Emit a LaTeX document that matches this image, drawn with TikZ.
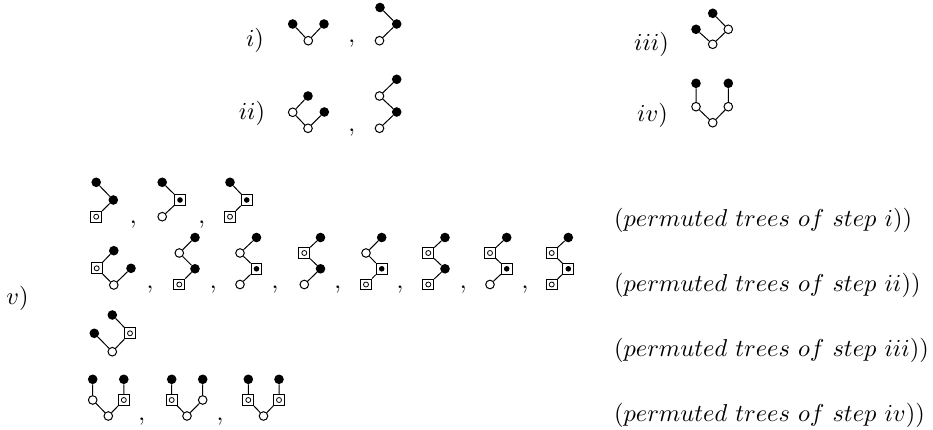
\documentclass[tikz,border=0pt]{standalone}
\usepackage{graphicx}
\newcommand{\bigt}[1]{\scalebox{2.44}{#1}}
\begin{document}
\begin{tikzpicture}[x=1pt,y=-1pt,
 bn/.style={circle,fill=black,inner sep=0,minimum size=9.6pt},
 wn/.style={circle,draw,fill=white,inner sep=0,minimum size=8.6pt,line width=1pt},
 sqw/.style={rectangle,draw,inner sep=0,minimum size=10.8pt,line width=1pt,
   path picture={\draw[line width=0.8pt] (path picture bounding box.center) circle (2.5pt);}},
 sqb/.style={rectangle,draw,inner sep=0,minimum size=10.8pt,line width=1pt,
   path picture={\fill (path picture bounding box.center) circle (2.8pt);}},
 ed/.style={line width=1pt},
 lab/.style={inner sep=0},
 commanode/.style={inner sep=0}]
\useasboundingbox (0,0) rectangle (933,430);

% labels
\node[lab] (li) at (255,40) {\bigt{$i)$}};
\node[lab] (lii) at (252,113.5) {\bigt{$ii)$}};
\node[lab] (liii) at (651.5,44.5) {\bigt{$iii)$}};
\node[lab] (liv) at (652.5,115) {\bigt{$iv)$}};
\node[lab] (lv) at (17.5,298) {\bigt{$v)$}};

\node[lab,anchor=west] (p1) at (614,220) {\bigt{$(permuted\ trees\ of\ step\ i))$}};
\node[lab,anchor=west] (p2) at (614,285) {\bigt{$(permuted\ trees\ of\ step\ ii))$}};
\node[lab,anchor=west] (p3) at (614,350) {\bigt{$(permuted\ trees\ of\ step\ iii))$}};
\node[lab,anchor=west] (p4) at (614,415) {\bigt{$(permuted\ trees\ of\ step\ iv))$}};

% commas
\node[commanode] (ci) at (351.7,44) {\bigt{$,$}};
\node[commanode] (cii) at (351.7,133) {\bigt{$,$}};
\foreach \x [count=\n] in {133.3,201.7} {\node[commanode] (ca\n) at (\x,225) {\bigt{$,$}};}
\foreach \x [count=\n] in {150,213.3,275,337.7,400,463.3,525} {\node[commanode] (cb\n) at (\x,290) {\bigt{$,$}};}
\foreach \x [count=\n] in {141.7,220} {\node[commanode] (cd\n) at (\x,421.7) {\bigt{$,$}};}

% step i
\node[bn] (a1) at (292.7,24) {};
\node[bn] (a2) at (324,24) {};
\node[wn] (a0) at (308.3,40.7) {};
\draw[ed] (a0) -- (a1) (a0) -- (a2);
\node[bn] (b1) at (380,7.5) {};
\node[bn] (b2) at (396.7,24) {};
\node[wn] (b0) at (379.5,40.7) {};
\draw[ed] (b0) -- (b2) (b2) -- (b1);

% step ii
\node[wn] (c0) at (308,128.3) {};
\node[wn] (c1) at (292.7,112.3) {};
\node[bn] (c2) at (308,96) {};
\node[bn] (c3) at (324.3,112) {};
\draw[ed] (c0) -- (c1) (c1) -- (c2) (c0) -- (c3);
\node[wn] (d0) at (379.5,128.3) {};
\node[bn] (d1) at (396.7,112) {};
\node[wn] (d2) at (379.5,96) {};
\node[bn] (d3) at (396.7,79.3) {};
\draw[ed] (d0) -- (d1) (d1) -- (d2) (d2) -- (d3);

% step iii
\node[wn] (e0) at (712.7,44.3) {};
\node[bn] (e1) at (696,29.3) {};
\node[wn] (e2) at (728.3,29.3) {};
\node[bn] (e3) at (712.7,13.3) {};
\draw[ed] (e0) -- (e1) (e0) -- (e2) (e2) -- (e3);

% step iv
\node[wn] (f0) at (712.7,122.7) {};
\node[wn] (f1) at (696,106.7) {};
\node[bn] (f2) at (696,83.3) {};
\node[wn] (f3) at (728.3,106.7) {};
\node[bn] (f4) at (728.3,83.3) {};
\draw[ed] (f0) -- (f1) (f1) -- (f2) (f0) -- (f3) (f3) -- (f4);

% v) row 1
\node[sqw] (g0) at (96.2,216.7) {};
\node[bn] (g1) at (113.3,200) {};
\node[bn] (g2) at (96.2,182.3) {};
\draw[ed] (g0) -- (g1) (g1) -- (g2);
\node[wn] (h0) at (162.2,216.7) {};
\node[sqb] (h1) at (180,200) {};
\node[bn] (h2) at (162.2,182.3) {};
\draw[ed] (h0) -- (h1) (h1) -- (h2);
\node[sqw] (k0) at (230,216.7) {};
\node[sqb] (k1) at (246.7,200) {};
\node[bn] (k2) at (230,182.3) {};
\draw[ed] (k0) -- (k1) (k1) -- (k2);

% v) row 2
\node[wn] (m0) at (113.8,285) {};
\node[sqw] (m1) at (96.7,268.3) {};
\node[bn] (m2) at (113.8,250.7) {};
\node[bn] (m3) at (131,268.3) {};
\draw[ed] (m0) -- (m1) (m1) -- (m2) (m0) -- (m3);

\node[sqw] (n0) at (179.3,284.5) {};
\node[bn] (n1) at (195,268.8) {};
\node[wn] (n2) at (179.3,253) {};
\node[bn] (n3) at (195,237.5) {};
\draw[ed] (n0) -- (n1) (n1) -- (n2) (n2) -- (n3);

\node[wn] (o0) at (240,284.5) {};
\node[sqb] (o1) at (256.5,268.8) {};
\node[wn] (o2) at (240,253) {};
\node[bn] (o3) at (256.5,237.5) {};
\draw[ed] (o0) -- (o1) (o1) -- (o2) (o2) -- (o3);

\node[wn] (q0) at (304.3,284.5) {};
\node[bn] (q1) at (320.5,268.8) {};
\node[sqw] (q2) at (304.3,253) {};
\node[bn] (q3) at (320.5,237.5) {};
\draw[ed] (q0) -- (q1) (q1) -- (q2) (q2) -- (q3);

\node[sqw] (r0) at (366,284.5) {};
\node[sqb] (r1) at (381.7,268.8) {};
\node[wn] (r2) at (366,253) {};
\node[bn] (r3) at (381.7,237.5) {};
\draw[ed] (r0) -- (r1) (r1) -- (r2) (r2) -- (r3);

\node[sqw] (s0) at (428.3,284.5) {};
\node[bn] (s1) at (445,268.8) {};
\node[sqw] (s2) at (428.3,253) {};
\node[bn] (s3) at (445,237.5) {};
\draw[ed] (s0) -- (s1) (s1) -- (s2) (s2) -- (s3);

\node[wn] (t0) at (490,284.5) {};
\node[sqb] (t1) at (506.7,268.8) {};
\node[sqw] (t2) at (490,253) {};
\node[bn] (t3) at (506.7,237.5) {};
\draw[ed] (t0) -- (t1) (t1) -- (t2) (t2) -- (t3);

\node[sqw] (u0) at (551.7,284.5) {};
\node[sqb] (u1) at (568.3,268.8) {};
\node[sqw] (u2) at (551.7,253) {};
\node[bn] (u3) at (568.3,237.5) {};
\draw[ed] (u0) -- (u1) (u1) -- (u2) (u2) -- (u3);

% v) row 3
\node[wn] (w0) at (112.3,351.7) {};
\node[bn] (w1) at (94.3,333.3) {};
\node[sqw] (w2) at (130,333.3) {};
\node[bn] (w3) at (112.3,315) {};
\draw[ed] (w0) -- (w1) (w0) -- (w2) (w2) -- (w3);

% v) row 4
\node[wn] (x0) at (108.3,416) {};
\node[wn] (x1) at (92.7,400) {};
\node[bn] (x2) at (92.7,379.3) {};
\node[sqw] (x3) at (123.8,400) {};
\node[bn] (x4) at (123.8,379.3) {};
\draw[ed] (x0) -- (x1) (x1) -- (x2) (x0) -- (x3) (x3) -- (x4);

\node[wn] (y0) at (187,416) {};
\node[sqw] (y1) at (171.7,400) {};
\node[bn] (y2) at (171.7,379.3) {};
\node[wn] (y3) at (202.7,400) {};
\node[bn] (y4) at (202.7,379.3) {};
\draw[ed] (y0) -- (y1) (y1) -- (y2) (y0) -- (y3) (y3) -- (y4);

\node[wn] (z0) at (263.5,416) {};
\node[sqw] (z1) at (248.3,400) {};
\node[bn] (z2) at (248.3,379.3) {};
\node[sqw] (z3) at (279,400) {};
\node[bn] (z4) at (279,379.3) {};
\draw[ed] (z0) -- (z1) (z1) -- (z2) (z0) -- (z3) (z3) -- (z4);
\end{tikzpicture}
\end{document}
